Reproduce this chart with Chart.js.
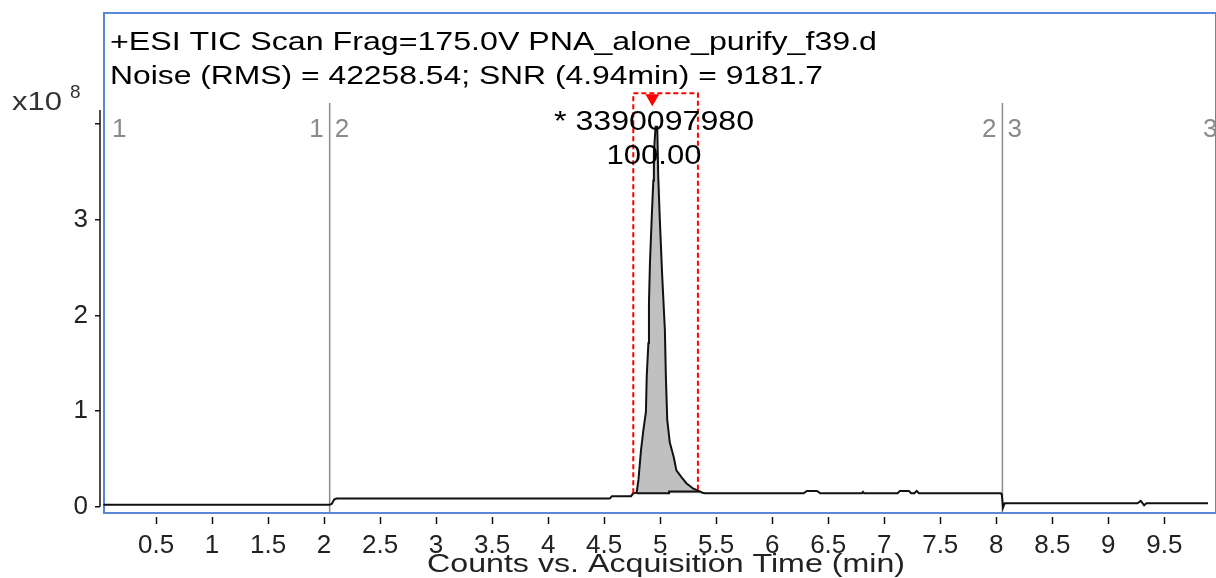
<!DOCTYPE html>
<html>
<head>
<meta charset="utf-8">
<script src="https://cdn.jsdelivr.net/npm/chart.js@4.4.1/dist/chart.umd.min.js"></script>
<style>
body{margin:0;background:#fff;}
#wrap{width:1216px;height:578px;}
</style>
</head>
<body>
<div id="wrap"><canvas id="tic"></canvas></div>
<script>
// ---- data (time in min, counts in units of 1e8) ----
const traceTime = [0.03, 2.05, 2.07, 2.09, 2.11, 4.55, 4.57, 4.74, 4.76, 4.79, 4.806, 4.829, 4.85, 4.873, 4.88, 4.895, 4.90, 4.909, 4.924, 4.939, 4.944, 4.959, 4.974, 4.983, 4.997, 5.019, 5.042, 5.051, 5.063, 5.086, 5.121, 5.145, 5.19, 5.234, 5.293, 5.338, 5.377, 5.40, 6.28, 6.31, 6.40, 6.43, 6.80, 6.81, 6.82, 7.12, 7.14, 7.22, 7.24, 7.27, 7.29, 7.31, 8.04, 8.05, 8.06, 8.075, 9.26, 9.29, 9.32, 9.34, 9.36, 9.89];
const traceCounts = [0.02, 0.02, 0.03, 0.075, 0.085, 0.085, 0.11, 0.11, 0.14, 0.146, 0.28, 0.59, 0.80, 0.99, 1.36, 1.71, 2.13, 2.55, 3.0, 3.41, 3.70, 3.97, 3.97, 3.45, 3.0, 2.39, 1.85, 1.36, 0.91, 0.67, 0.52, 0.38, 0.31, 0.245, 0.19, 0.167, 0.146, 0.14, 0.14, 0.165, 0.165, 0.14, 0.14, 0.155, 0.14, 0.14, 0.165, 0.165, 0.14, 0.14, 0.165, 0.14, 0.14, 0.125, -0.01, 0.035, 0.035, 0.06, 0.015, 0.035, 0.035, 0.035];

const peakStart = 4.76, peakEnd = 5.377;
const baseTime = [4.79, 5.08, 5.08, 5.35];
const baseCounts = [0.14, 0.14, 0.16, 0.16];

const boxTime = [4.76, 4.76, 5.337, 5.337];
const boxCounts = [0.14, 4.32, 4.32, 0.15];
const markerTime = [4.93];
const markerCounts = [4.27];

const segmentTimes = [2.05, 8.055];
const segmentTop = 4.22;

const xTicks = [0.5, 1, 1.5, 2, 2.5, 3, 3.5, 4, 4.5, 5, 5.5, 6, 6.5, 7, 7.5, 8, 8.5, 9, 9.5];
const yTicks = [0, 1, 2, 3, 4];
const yTickLabels = ["0", "1", "2", "3", ""];

const titleLine1 = "+ESI TIC Scan Frag=175.0V PNA_alone_purify_f39.d";
const titleLine2 = "Noise (RMS) = 42258.54; SNR (4.94min) = 9181.7";
const peakArea = "* 3390097980";
const peakPct = "100.00";
const xTitle = "Counts vs. Acquisition Time (min)";

const X_MIN = 0, X_MAX = 9.89, Y_MIN = -0.066, Y_MAX = 5.16;
const FONT = "'Liberation Sans', Arial, sans-serif";

function pts(xs, ys){ return xs.map((x, i) => ({x: x, y: ys[i]})); }

const tracePts = pts(traceTime, traceCounts);
const peakPts = tracePts.filter(p => p.x >= peakStart && p.x <= peakEnd);

const segPts = [];
segmentTimes.forEach(t => { segPts.push({x: t, y: Y_MIN}, {x: t, y: segmentTop}, {x: t, y: null}); });

function fitText(ctx, text, x, y, size, width, align, color){
  ctx.save();
  ctx.font = size + "px " + FONT;
  ctx.fillStyle = color;
  ctx.textBaseline = "alphabetic";
  ctx.textAlign = "left";
  const w = ctx.measureText(text).width;
  const sx = width ? width / w : 1;
  let left = x;
  if(align === "center") left = x - w * sx / 2;
  if(align === "right") left = x - w * sx;
  ctx.translate(left, y);
  ctx.scale(sx, 1);
  ctx.fillText(text, 0, 0);
  ctx.restore();
}

const decor = {
  id: "decor",
  beforeDatasetsDraw(chart){
    const {ctx, chartArea: a, scales: {x, y}} = chart;
    ctx.save();
    // blue frame
    ctx.strokeStyle = "#5b86d8";
    ctx.lineWidth = 2;
    ctx.strokeRect(a.left + 4, a.top, a.right - a.left + 4, a.bottom - a.top);
    // y axis line
    ctx.strokeStyle = "#111";
    ctx.lineWidth = 1.5;
    ctx.beginPath();
    ctx.moveTo(a.left, y.getPixelForValue(0));
    ctx.lineTo(a.left, 110);
    ctx.stroke();
    // x tick marks below frame
    xTicks.forEach(v => {
      const px = Math.round(x.getPixelForValue(v)) + 0.5;
      ctx.beginPath();
      ctx.moveTo(px, a.bottom + 4);
      ctx.lineTo(px, a.bottom + 11);
      ctx.stroke();
    });
    ctx.restore();
  },
  afterDraw(chart){
    const {ctx, chartArea: a, scales: {x, y}} = chart;
    fitText(ctx, titleLine1, 110, 50, 26, 767, "left", "#000");
    fitText(ctx, titleLine2, 110, 84, 26, 713, "left", "#000");
    fitText(ctx, "x10", 12, 110, 26, 50, "left", "#333");
    fitText(ctx, "8", 70, 98, 19, 0, "left", "#333");
    // segment labels
    const gy = 137;
    const g = "#8a8a8a";
    fitText(ctx, "1", a.left + 12, gy, 26, 0, "left", g);
    fitText(ctx, "1", x.getPixelForValue(segmentTimes[0]) - 6, gy, 26, 0, "right", g);
    fitText(ctx, "2", x.getPixelForValue(segmentTimes[0]) + 5, gy, 26, 0, "left", g);
    fitText(ctx, "2", x.getPixelForValue(segmentTimes[1]) - 6, gy, 26, 0, "right", g);
    fitText(ctx, "3", x.getPixelForValue(segmentTimes[1]) + 5, gy, 26, 0, "left", g);
    fitText(ctx, "3", 1203, gy, 26, 0, "left", g);
    // peak labels
    const cx = x.getPixelForValue(4.945);
    fitText(ctx, peakArea, cx, 130, 27, 200, "center", "#000");
    fitText(ctx, peakPct, cx, 164, 27, 95, "center", "#000");
    fitText(ctx, xTitle, 666, 572, 26, 478, "center", "#222");
  }
};

new Chart(document.getElementById("tic"), {
  type: "line",
  data: {
    datasets: [
      {data: tracePts, borderColor: "#111", borderWidth: 2, pointRadius: 0, fill: false, order: 1},
      {data: peakPts, borderColor: "rgba(0,0,0,0)", borderWidth: 0, pointRadius: 0, backgroundColor: "#c0c0c0", fill: {value: 0.14}, order: 5},
      {data: pts(baseTime, baseCounts), borderColor: "#111", borderWidth: 2, pointRadius: 0, fill: false, order: 2},
      {data: pts(boxTime, boxCounts), borderColor: "#ff0000", borderWidth: 2, borderDash: [5, 3], pointRadius: 0, fill: false, order: 0},
      {data: pts(markerTime, markerCounts), showLine: false, pointStyle: "triangle", rotation: 180, pointRadius: 8, pointBackgroundColor: "#ff0000", pointBorderColor: "#ff0000", pointBorderWidth: 0, order: 0},
      {data: segPts, borderColor: "#8c8c8c", borderWidth: 1.5, pointRadius: 0, fill: false, spanGaps: false, order: 6}
    ]
  },
  options: {
    responsive: true,
    maintainAspectRatio: false,
    animation: false,
    layout: {padding: {top: 13, right: 0, left: 0, bottom: 0}},
    plugins: {legend: {display: false}, tooltip: {enabled: false}},
    scales: {
      x: {
        type: "linear", min: X_MIN, max: X_MAX,
        afterFit: s => { s.height = 65; s.paddingLeft = 0; s.paddingRight = 0; },
        afterBuildTicks: s => { s.ticks = xTicks.map(v => ({value: v})); },
        grid: {display: false, drawTicks: false},
        border: {display: false},
        ticks: {padding: 17, autoSkip: false, maxRotation: 0, color: "#222", font: {family: FONT, size: 26}, callback: v => String(v)}
      },
      y: {
        type: "linear", min: Y_MIN, max: Y_MAX,
        afterFit: s => { s.width = 100; s.paddingTop = 0; s.paddingBottom = 0; },
        afterBuildTicks: s => { s.ticks = yTicks.map(v => ({value: v})); },
        grid: {drawOnChartArea: false, drawTicks: true, tickLength: 5, color: "#111", lineWidth: 1.5},
        border: {display: false},
        ticks: {padding: 7, color: "#222", font: {family: FONT, size: 26}, callback: (v) => yTickLabels[yTicks.indexOf(v)] ?? ""}
      }
    }
  },
  plugins: [decor]
});
</script>
</body>
</html>
